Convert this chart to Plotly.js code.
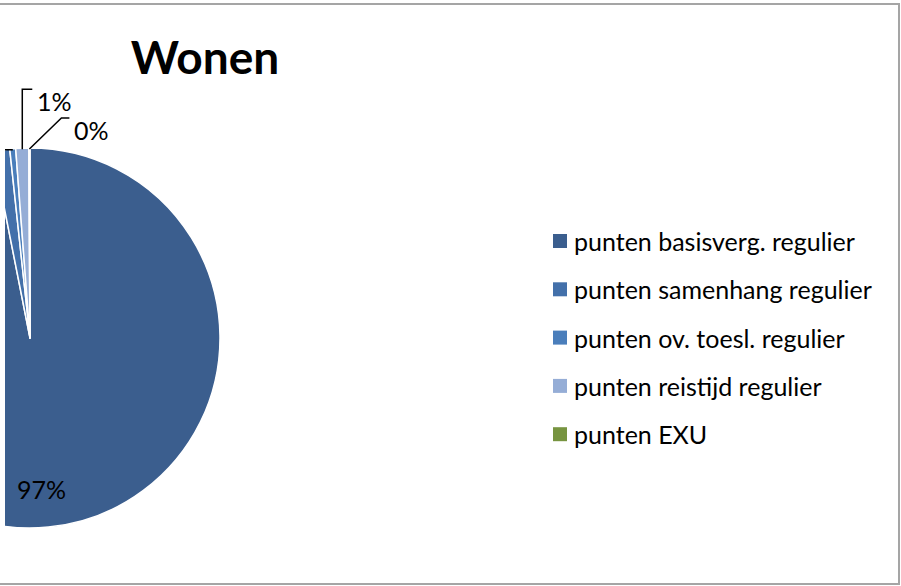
<!DOCTYPE html>
<html>
<head>
<meta charset="utf-8">
<script src="https://cdn.plot.ly/plotly-3.0.1.min.js"></script>
<style>
  html, body { margin: 0; padding: 0; width: 901px; height: 586px; overflow: hidden; background: #ffffff; }
  #clip { position: absolute; left: 5px; top: 0; width: 896px; height: 586px; overflow: hidden; }
  #chart { position: absolute; left: -205px; top: 0; width: 1101px; height: 586px; }
  #frame { position: absolute; left: -10px; top: 3px; width: 910px; height: 582px; box-sizing: border-box;
           border: 2px solid #a5a5a5; pointer-events: none; z-index: 5; }
</style>
</head>
<body>
<div id="clip"><div id="chart"></div></div>
<div id="frame"></div>
<script>
// ---- data ----
var labels = ['punten basisverg. regulier', 'punten samenhang regulier', 'punten ov. toesl. regulier', 'punten reistijd regulier', 'punten EXU'];
var values = [96.9, 1.4, 0.5, 1.1, 0.1];
var colors = ['#3b5e8e', '#4370aa', '#4a7ebb', '#95add6', '#779440'];
var chartTitle = 'Wonen';

// ---- geometry helpers (div is shifted 200px left of the page) ----
var W = 1101, H = 586, OFF = 200;
function px(x) { return (x + OFF) / W; }
function py(y) { return 1 - y / H; }
var CX = 30, CY = 338, R = 190;   // pie placement on the page (layout)

var FONT = 'Lato, "Open Sans", sans-serif';

var trace = {
  type: 'pie',
  labels: labels,
  values: values,
  sort: false,
  direction: 'clockwise',
  rotation: 0,
  marker: { colors: colors, line: { color: '#ffffff', width: 1.5 } },
  textinfo: 'none',
  showlegend: false,
  hoverinfo: 'label+percent',
  domain: { x: [px(CX - R), px(CX + R)], y: [py(CY + R), py(CY - R)] }
};

var shapes = [], annotations = [];

// ---- data labels, placed from the slice angles computed from the values ----
// leader style per slice: [dx1, dy1, dx2, dy2, textAnchor]; null = inside label
var leaderStyle = [null, [-12, -45, -30, 0, 'right'], [-25, 0, -12, 0, 'right'], [0, -60, 10, 0, 'left'], [32, -31, 8, 0, 'left']];
var total = values.reduce(function (a, b) { return a + b; }, 0);
var cum = 0;
values.forEach(function (v, i) {
  var frac = v / total;
  var mid = (cum + frac / 2) * 2 * Math.PI;  // clockwise from 12 o'clock
  cum += frac;
  var txt = Math.round(frac * 100) + '%';
  var st = leaderStyle[i];
  if (!st) {
    var rr = 0.8 * R;
    annotations.push({ xref: 'paper', yref: 'paper', x: px(CX + rr * Math.sin(mid) - 3), y: py(CY - rr * Math.cos(mid)),
      xanchor: 'center', yanchor: 'middle', showarrow: false, text: txt,
      font: { family: FONT, size: 25, color: '#000000' } });
    return;
  }
  var ex = CX + (R - 1) * Math.sin(mid), ey = CY - (R - 1) * Math.cos(mid);
  var x1 = ex + st[0], y1 = ey + st[1], x2 = x1 + st[2], y2 = y1 + st[3];
  shapes.push({ type: 'path', xref: 'paper', yref: 'paper',
    path: 'M' + px(ex) + ',' + py(ey) + ' L' + px(x1) + ',' + py(y1) + ' L' + px(x2) + ',' + py(y2),
    line: { color: '#000000', width: 1.5 } });
  var left = st[4] === 'left';
  annotations.push({ xref: 'paper', yref: 'paper', x: px(x2 + (left ? 3 : -4)), y: py(y2 - 5),
    xanchor: left ? 'left' : 'right', yanchor: 'top', showarrow: false, text: txt,
    font: { family: FONT, size: 25, color: '#000000' } });
});

// ---- custom legend built from labels/colors ----
labels.forEach(function (lab, i) {
  var yc = 241 + i * 48.3;
  shapes.push({ type: 'rect', xref: 'paper', yref: 'paper',
    x0: px(553), x1: px(567), y0: py(yc + 7), y1: py(yc - 7),
    fillcolor: colors[i], line: { width: 0 } });
  annotations.push({ xref: 'paper', yref: 'paper', x: px(572), y: py(yc),
    xanchor: 'left', yanchor: 'middle', showarrow: false, text: lab,
    font: { family: FONT, size: 25, color: '#000000' } });
});

var layout = {
  width: W, height: H,
  margin: { l: 0, r: 0, t: 0, b: 0, pad: 0 },
  paper_bgcolor: '#ffffff',
  title: { text: chartTitle, x: px(205), xanchor: 'center', y: py(58), yanchor: 'middle',
           xref: 'paper', yref: 'container',
           font: { family: FONT, size: 46, weight: 'bold', color: '#000000' } },
  shapes: shapes,
  annotations: annotations,
  showlegend: false
};

Plotly.newPlot('chart', [trace], layout, { displayModeBar: false, staticPlot: true });
</script>
</body>
</html>
